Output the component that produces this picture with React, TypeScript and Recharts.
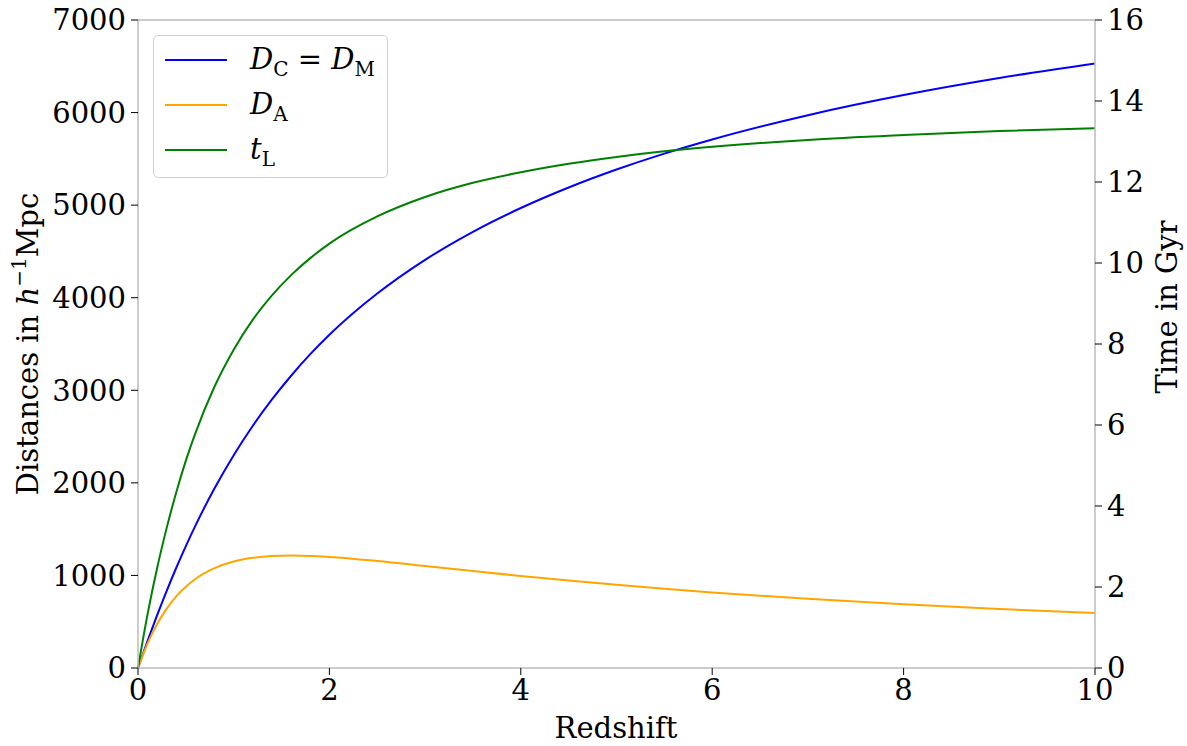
import { LineChart, Line, XAxis, YAxis, ReferenceLine } from "recharts";

// redshift grid and curves
const redshift = [0, 0.1, 0.2, 0.3, 0.4, 0.5, 0.6, 0.8, 1.0, 1.2, 1.4, 1.6, 1.8, 2.0, 2.5, 3.0, 3.5, 4.0, 4.5, 5.0, 5.5, 6.0, 7.0, 8.0, 9.0, 10.0];
const comovingDist = [0, 293, 571, 834, 1083, 1317, 1538, 1941, 2299, 2617, 2901, 3157, 3390, 3600, 4045, 4409, 4712, 4969, 5191, 5385, 5557, 5710, 5972, 6189, 6373, 6530];
const angularDist = [0, 266, 476, 642, 774, 878, 961, 1078, 1150, 1190, 1209, 1214, 1211, 1200, 1156, 1102, 1047, 994, 944, 898, 855, 816, 747, 688, 637, 594];
const lookbackTime = [0, 1.33, 2.47, 3.46, 4.34, 5.12, 5.8, 6.95, 7.86, 8.6, 9.2, 9.7, 10.12, 10.48, 11.15, 11.63, 11.98, 12.24, 12.45, 12.62, 12.76, 12.87, 13.04, 13.16, 13.26, 13.33];

const xTicks = [0, 2, 4, 6, 8, 10];
const leftTicks = [0, 1000, 2000, 3000, 4000, 5000, 6000, 7000];
const rightTicks = [0, 2, 4, 6, 8, 10, 12, 14, 16];

const data = redshift.map((z, i) => ({
  z,
  dc: comovingDist[i],
  da: angularDist[i],
  tl: lookbackTime[i],
}));

const FONT = "DejaVu Serif";
const FS = 29;
const SPINE = "#bbbbbb";
const tickStyle = { fontSize: FS, fill: "#000", fontFamily: FONT };

function LeftLabel() {
  return (
    <text
      x={0}
      y={0}
      transform="translate(38, 344) rotate(-90)"
      textAnchor="middle"
      fontFamily={FONT}
      fontSize={FS}
      fill="#000"
    >
      <tspan>Distances in </tspan>
      <tspan fontStyle="italic">h</tspan>
      <tspan fontSize={20} dy={-12}>−1</tspan>
      <tspan dy={12}>Mpc</tspan>
    </text>
  );
}

function RightLabel() {
  return (
    <text
      x={0}
      y={0}
      transform="translate(1177, 307) rotate(-90)"
      textAnchor="middle"
      fontFamily={FONT}
      fontSize={FS}
      fill="#000"
    >
      Time in Gyr
    </text>
  );
}

function BottomLabel() {
  return (
    <text x={616} y={738} textAnchor="middle" fontFamily={FONT} fontSize={FS} fill="#000">
      Redshift
    </text>
  );
}

const legendRows = [
  { color: "#0000ff", main: "D", sub: "C", tail: true },
  { color: "#ffa500", main: "D", sub: "A", tail: false },
  { color: "#008000", main: "t", sub: "L", tail: false },
];

function LegendBox() {
  return (
    <div
      style={{
        position: "absolute",
        left: 153,
        top: 35,
        width: 235,
        height: 143,
        border: "1px solid #d0d0d0",
        borderRadius: 5,
        background: "rgba(255,255,255,0.85)",
        boxSizing: "border-box",
      }}
    >
      <svg width={233} height={141} style={{ position: "absolute", left: 0, top: 0 }}>
        {legendRows.map((r, i) => {
          const y = 24 + i * 45;
          return (
            <g key={i}>
              <line x1={11} x2={73} y1={y} y2={y} stroke={r.color} strokeWidth={2} />
              <text x={96} y={y + 9} fontFamily={FONT} fontSize={FS} fill="#000">
                <tspan fontStyle="italic">{r.main}</tspan>
                <tspan fontSize={20} dy={7}>{r.sub}</tspan>
                {r.tail && (
                  <>
                    <tspan dy={-7}> = </tspan>
                    <tspan fontStyle="italic">D</tspan>
                    <tspan fontSize={20} dy={7}>M</tspan>
                  </>
                )}
              </text>
            </g>
          );
        })}
      </svg>
    </div>
  );
}

export default function App() {
  return (
    <div style={{ position: "absolute", left: 0, top: 0, width: 1187, height: 746, background: "#fff" }}>
      <LineChart width={1187} height={746} data={data} margin={{ top: 20, right: 0, bottom: 0, left: 0 }}>
        <XAxis
          dataKey="z"
          type="number"
          domain={[0, 10]}
          ticks={xTicks}
          height={78}
          tick={tickStyle}
          tickSize={7}
          tickMargin={4}
          tickLine={{ stroke: "#000" }}
          axisLine={{ stroke: SPINE, strokeWidth: 1.5 }}
        />
        <YAxis
          yAxisId="left"
          domain={[0, 7000]}
          ticks={leftTicks}
          width={138}
          tick={tickStyle}
          tickSize={7}
          tickMargin={5}
          tickLine={{ stroke: "#000" }}
          axisLine={{ stroke: SPINE, strokeWidth: 1.5 }}
        />
        <YAxis
          yAxisId="right"
          orientation="right"
          domain={[0, 16]}
          ticks={rightTicks}
          width={92}
          tick={tickStyle}
          tickSize={7}
          tickMargin={5}
          tickLine={{ stroke: "#000" }}
          axisLine={{ stroke: SPINE, strokeWidth: 1.5 }}
        />
        <ReferenceLine yAxisId="left" y={7000} stroke={SPINE} strokeWidth={1.5} />
        <Line yAxisId="left" type="monotone" dataKey="dc" stroke="#0000ff" strokeWidth={2} dot={false} isAnimationActive={false} />
        <Line yAxisId="left" type="monotone" dataKey="da" stroke="#ffa500" strokeWidth={2} dot={false} isAnimationActive={false} />
        <Line yAxisId="right" type="monotone" dataKey="tl" stroke="#008000" strokeWidth={2} dot={false} isAnimationActive={false} />
        <LeftLabel />
        <RightLabel />
        <BottomLabel />
      </LineChart>
      <LegendBox />
    </div>
  );
}
